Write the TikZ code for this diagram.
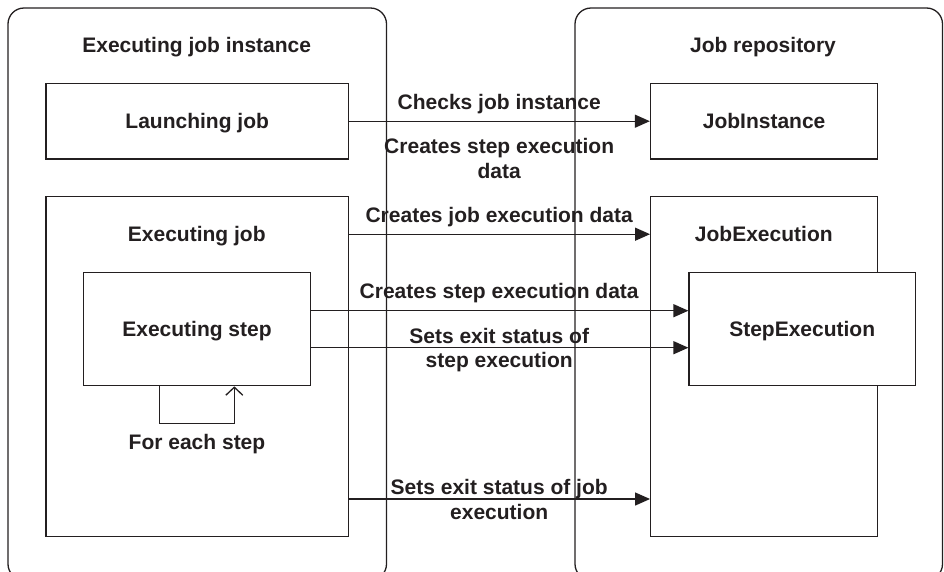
\documentclass[tikz,border=0pt]{standalone}
\usepackage{fontspec}
\setmainfont{Liberation Sans}
\usetikzlibrary{arrows.meta}
\definecolor{ink}{HTML}{231F20}
\tikzset{
  every node/.style={font=\fontsize{21}{24.5}\selectfont\bfseries},
  box/.style={draw, fill=white, inner sep=0pt, text height=15pt, text depth=0pt},
  lbl/.style={inner sep=0pt, align=center, anchor=base},
  arr/.style={-{Triangle[length=15pt,width=13pt]}},
  container/.style={draw, rounded corners=16pt, inner sep=0pt},
}
\begin{document}
\begin{tikzpicture}[x=1pt,y=-1pt,line width=1.3pt,color=ink]
\useasboundingbox (0,0) rectangle (944,571);
\clip (0,0) rectangle (944,571);
% containers
\node[container, minimum width=378.5pt, minimum height=572pt] (left) at (197.25,294) {};
\node[container, minimum width=367.5pt, minimum height=572pt] (right) at (758.75,294) {};
\node[lbl] (title1) at (196.7,52.5) {Executing job instance};
\node[lbl] (title2) at (763,52.5) {Job repository};
% boxes
\node[box, minimum width=302.3pt, minimum height=75.7pt] (launch) at (197.2,121.2) {Launching job};
\node[box, minimum width=227.2pt, minimum height=75.7pt] (jinst) at (764.1,121.2) {JobInstance};
\node[box, minimum width=302.3pt, minimum height=340pt] (execjob) at (197.2,366.7) {};
\node[box, minimum width=227pt, minimum height=340pt] (jobexec) at (764.2,366.7) {};
\node[lbl] (ejlabel) at (196.8,241.5) {Executing job};
\node[lbl] (jelabel) at (763.8,241.5) {JobExecution};
\node[box, minimum width=227.4pt, minimum height=113pt] (step) at (197,329.2) {Executing step};
\node[box, minimum width=226.3pt, minimum height=113pt] (stepexec) at (802.2,329.2) {StepExecution};
% loop
\draw[-{Straight Barb[length=8pt,width=17pt]}] ([xshift=-37.7pt]step.south) -- ++(0,37.3) -| ([xshift=37.3pt]step.south);
\node[lbl] (foreach) at (197,449) {For each step};
% arrows
\draw[arr] (launch.east) -- (jinst.west);
\draw[arr] ([yshift=132.5pt]execjob.east) -- ([yshift=132.5pt]jobexec.west);
\draw[arr] ([yshift=18.5pt]step.east) -- ([yshift=18.5pt]stepexec.west);
\draw[arr] ([yshift=-18.5pt]step.east) -- ([yshift=-18.5pt]stepexec.west);
\draw[arr] ([yshift=-132.3pt]execjob.east) -- ([yshift=-132.3pt]jobexec.west);
% arrow labels (anchor = baseline of the last line)
\node[lbl] (l1) at (499.2,109) {Checks job instance};
\node[lbl] (l2) at (499.2,178) {Creates step execution\\data};
\node[lbl] (l3) at (499.2,222.5) {Creates job execution data};
\node[lbl] (l4) at (499.2,298) {Creates step execution data};
\node[lbl] (l5) at (499.2,367.5) {Sets exit status of\\step execution};
\node[lbl] (l6) at (499.2,519) {Sets exit status of job\\execution};
\end{tikzpicture}
\end{document}
